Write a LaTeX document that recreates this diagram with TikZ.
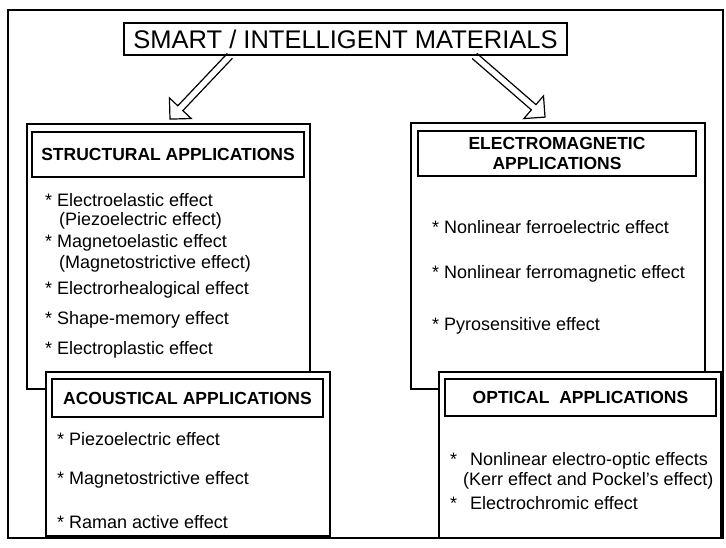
\documentclass[tikz,border=0pt]{standalone}
\usepackage{fontspec}
\setmainfont{Liberation Sans}
\usetikzlibrary{calc}

\tikzset{
  panel/.style={draw, line width=1.8pt, fill=white, inner sep=0pt},
  headbox/.style={draw, line width=1.8pt, fill=white, inner sep=0pt, align=center,
    font=\bfseries\fontsize{17.5}{20}\selectfont},
  item/.style={anchor=west, inner sep=0pt, font=\fontsize{18}{21}\selectfont},
  hollow/.style={line width=1.2pt, line join=miter},
}

% open double-lined arrow from #1 to the tip #2
\newcommand{\hollowarrow}[2]{%
  \path (#2) coordinate (tip) ($(#2)!15pt!(#1)$) coordinate (neck);
  \draw[hollow] ($(#1)!3.5pt!90:(#2)$) -- ($(neck)!3.5pt!90:(tip)$)
    -- ($(neck)!15pt!90:(tip)$) -- (tip) -- ($(neck)!15pt!-90:(tip)$)
    -- ($(neck)!3.5pt!-90:(tip)$) -- ($(#1)!3.5pt!-90:(#2)$);
}

\begin{document}
\begin{tikzpicture}[x=1pt, y=-1pt]
\useasboundingbox (0,0) rectangle (726,548);

% frame and title
\node[panel, minimum width=715pt, minimum height=528pt] (frame) at (365.5,274) {};
\node[draw, line width=1.8pt, fill=white, inner sep=0pt, minimum width=443pt, minimum height=32pt,
  font=\fontsize{25.5}{28}\selectfont] (title) at (345.5,39) {SMART / INTELLIGENT MATERIALS};

% structural
\node[panel, minimum width=283pt, minimum height=265pt] (struct) at (168.5,256.5) {};
\node[headbox, minimum width=272pt, minimum height=45pt] (structhead) at (168,154.5) {STRUCTURAL APPLICATIONS};
\node[item] (s1) at (45,200) {* Electroelastic effect};
\node[item] (s1b) at (59,221) {(Piezoelectric effect)};
\node[item] (s2) at (45,243) {* Magnetoelastic effect};
\node[item] (s2b) at (59,264) {(Magnetostrictive effect)};
\node[item] (s3) at (45,290) {* Electrorhealogical effect};
\node[item] (s4) at (45,320) {* Shape-memory effect};
\node[item] (s5) at (45,350) {* Electroplastic effect};

% electromagnetic
\node[panel, minimum width=294pt, minimum height=266pt] (em) at (558,256) {};
\node[headbox, minimum width=278pt, minimum height=45pt] (emhead) at (557,153.5) {ELECTROMAGNETIC\\APPLICATIONS};
\node[item] (e1) at (432,227) {* Nonlinear ferroelectric effect};
\node[item] (e2) at (432,274) {* Nonlinear ferromagnetic effect};
\node[item] (e3) at (432,326) {* Pyrosensitive effect};

% acoustical
\node[panel, minimum width=284pt, minimum height=164pt] (acoust) at (188,454) {};
\node[headbox, minimum width=271pt, minimum height=38pt] (acousthead) at (187.5,398) {ACOUSTICAL APPLICATIONS};
\node[item] (a1) at (57,439) {* Piezoelectric effect};
\node[item] (a2) at (57,480) {* Magnetostrictive effect};
\node[item] (a3) at (57,522) {* Raman active effect};

% optical
\node[panel, minimum width=282pt, minimum height=166pt] (optic) at (580,455) {};
\node[headbox, minimum width=271pt, minimum height=37pt] (optichead) at (580.5,397.5) {OPTICAL\ \ APPLICATIONS};
\node[item] (o1) at (450,461) {*\hspace{13pt}Nonlinear electro-optic effects};
\node[item] (o1b) at (463,481) {(Kerr effect and Pockel's effect)};
\node[item] (o2) at (450,503) {*\hspace{13pt}Electrochromic effect};

% arrows
\coordinate (lstart) at ($(title.south west)!0.24!(title.south east)$);
\coordinate (rstart) at ($(title.south west)!0.79!(title.south east)$);
\coordinate (ltip) at ($(struct.north)+(1.5,-4)$);
\coordinate (rtip) at ($(em.north)+(-13,-5)$);
\hollowarrow{lstart}{ltip}
\hollowarrow{rstart}{rtip}
\end{tikzpicture}
\end{document}
